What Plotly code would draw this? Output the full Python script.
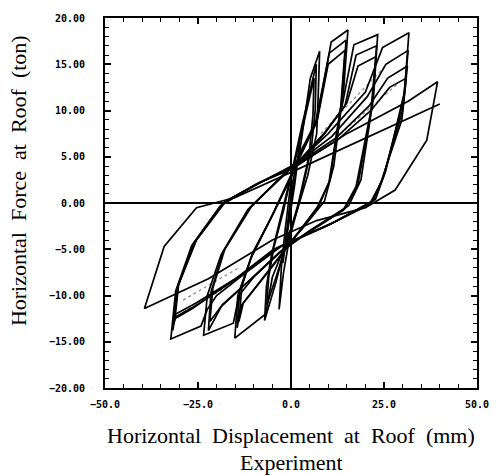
import plotly.graph_objects as go

# Hysteresis loops: displacement (mm) and force (ton)
c0_x = [0.0, 1.2, 2.4, 1.0, -1.0, -2.2, -1.0, 0.3]
c0_y = [0.0, 3.5, 6.5, 2.0, -3.0, -6.5, -2.5, 2.0]

c1a_x = [0.3, 2.5, 5.2, 7.7, 7.3, 6.9, 4.5, 1.5, -1.5, -4.0, -7.1, -6.6, -5.2, -2.5, 0.3]
c1a_y = [2.0, 6.0, 13.5, 16.4, 11.5, 7.5, 3.0, -1.0, -4.5, -8.5, -12.7, -9.0, -5.5, -1.0, 3.5]
c1b_x = [0.3, 3.0, 6.8, 6.5, 5.5, 2.5, -0.5, -2.0, -3.2, -2.6, -1.6, 0.2]
c1b_y = [3.5, 8.5, 15.0, 10.0, 6.0, 0.5, -4.0, -7.5, -11.5, -7.0, -3.0, 3.0]
c1c_x = [0.2, 2.8, 6.2, 5.9, 4.8, 2.0, -1.0, -4.0, -6.5, -6.0, -4.6, -2.0, 0.2]
c1c_y = [3.0, 7.5, 13.5, 9.5, 5.0, 0.0, -4.2, -8.0, -11.0, -8.0, -4.8, -0.8, 3.2]

c2a_x = [0.2, 2.5, 7.0, 10.8, 15.3, 14.2, 11.5, 9.0, 3.0, -2.0, -5.0, -6.8, -15.1, -14.3, -10.8, -5.6, 1.5]
c2a_y = [3.0, 5.5, 9.0, 17.4, 18.7, 12.5, 4.0, 0.2, -2.8, -5.0, -8.0, -12.0, -14.6, -10.0, -6.0, -1.8, 4.3]
c2b_x = [1.5, 6.5, 10.3, 14.8, 13.6, 10.5, 7.5, 0.0, -7.0, -13.2, -14.5, -13.8, -10.5, -5.2, 1.5]
c2b_y = [4.3, 8.5, 16.2, 17.6, 11.0, 2.5, -0.3, -4.2, -7.8, -11.0, -13.5, -9.5, -5.6, -1.5, 4.0]
c2c_x = [1.5, 7.0, 10.0, 14.5, 13.4, 10.2, 7.0, 0.0, -7.0, -12.8, -14.0, -13.2, -10.2, -5.0, 1.5]
c2c_y = [4.2, 8.8, 15.0, 16.5, 10.5, 2.2, -0.5, -4.3, -7.9, -10.8, -12.8, -9.0, -5.3, -1.3, 4.1]

c3a_x = [1.5, 8.0, 13.5, 16.9, 23.3, 22.2, 18.8, 15.5, 5.0, -2.0, -10.0, -14.0, -15.5, -23.5, -22.5, -18.8, -11.6, 1.5]
c3a_y = [4.3, 7.0, 10.0, 17.1, 18.2, 11.5, 2.5, -0.3, -3.0, -5.0, -8.0, -10.0, -13.0, -14.3, -10.0, -5.6, -0.7, 4.3]
c3b_x = [1.5, 9.0, 14.5, 17.5, 23.0, 21.8, 18.0, 14.5, 4.0, -3.0, -11.0, -18.5, -22.2, -21.5, -18.3, -11.0, 1.5]
c3b_y = [4.3, 7.5, 10.5, 16.0, 17.0, 10.5, 2.0, -0.6, -3.3, -5.3, -8.3, -11.0, -13.8, -9.6, -5.3, -0.5, 4.5]
c3c_x = [1.5, 9.5, 15.0, 18.0, 22.8, 21.5, 17.5, 14.0, 3.5, -3.5, -11.5, -18.8, -21.8, -21.0, -17.8, -10.5, 1.5]
c3c_y = [4.2, 7.8, 10.8, 14.8, 15.8, 10.0, 1.8, -0.8, -3.5, -5.5, -8.5, -11.2, -12.8, -9.2, -5.0, -0.3, 4.4]

c4a_x = [1.5, 10.0, 20.0, 24.6, 31.7, 30.5, 25.5, 22.7, 12.0, -2.0, -12.0, -20.0, -22.5, -24.2, -32.3, -31.0, -26.7, -19.0, -10.0, 1.5]
c4a_y = [4.3, 7.5, 12.0, 16.8, 18.4, 12.0, 3.5, 0.4, -2.0, -4.5, -7.5, -10.0, -11.5, -13.3, -14.7, -9.5, -4.6, -0.3, 1.8, 4.3]
c4b_x = [1.5, 11.0, 20.5, 25.5, 31.5, 30.2, 25.0, 22.0, 11.0, -3.0, -13.0, -25.5, -31.0, -31.8, -30.6, -26.2, -18.5, -9.5, 1.5]
c4b_y = [4.3, 7.2, 11.5, 15.0, 16.5, 11.0, 3.0, 0.2, -2.2, -4.7, -7.7, -10.8, -12.0, -13.8, -9.2, -4.4, -0.1, 2.0, 4.2]
c4c_x = [1.5, 12.0, 21.0, 26.0, 31.3, 30.0, 24.5, 21.5, 10.0, -4.0, -14.0, -26.0, -31.0, -31.5, -30.4, -25.8, -18.0, -9.0, 1.5]
c4c_y = [4.2, 7.0, 10.5, 13.5, 14.8, 10.0, 2.5, 0.0, -2.4, -4.9, -8.0, -11.2, -12.3, -13.0, -9.0, -4.2, 0.1, 2.1, 4.0]
c4d_x = [1.5, 12.5, 21.5, 26.5, 31.0, 29.8, 24.0, 21.0, 9.0, -5.0, -15.0, -26.5, -30.8, -31.2, -30.2, -25.4, -17.5, -8.5, 1.5]
c4d_y = [4.1, 6.8, 10.0, 12.5, 13.5, 9.0, 2.0, -0.2, -2.6, -5.1, -8.2, -11.4, -12.4, -12.5, -8.8, -4.0, 0.2, 2.2, 3.9]

c5_x = [1.5, 15.0, 31.5, 39.4, 36.5, 28.0, 20.0, 6.9, -5.0, -22.2, -39.4, -34.1, -25.4, -15.0, 1.0, 20.0, 40.0]
c5_y = [4.0, 7.5, 11.0, 13.1, 6.8, 1.4, -0.5, -1.9, -4.0, -8.2, -11.4, -4.7, -0.5, 0.6, 3.5, 7.0, 10.7]

# faint speckled strokes inside the loops
g1_x = [8.0, 27.0]
g1_y = [7.5, 15.5]
g2_x = [12.0, 29.0]
g2_y = [7.0, 13.0]
g3_x = [-29.0, -14.0]
g3_y = [-10.5, -7.0]
g4_x = [-29.0, -16.0]
g4_y = [-11.8, -8.8]

x_ticks = [-50, -25, 0, 25, 50]
y_ticks = [-20, -15, -10, -5, 0, 5, 10, 15, 20]

cycles = [(c0_x, c0_y), (c1a_x, c1a_y), (c1b_x, c1b_y), (c1c_x, c1c_y),
          (c2a_x, c2a_y), (c2b_x, c2b_y), (c2c_x, c2c_y),
          (c3a_x, c3a_y), (c3b_x, c3b_y), (c3c_x, c3c_y),
          (c4a_x, c4a_y), (c4b_x, c4b_y), (c4c_x, c4c_y), (c4d_x, c4d_y),
          (c5_x, c5_y)]
speckles = [(g1_x, g1_y), (g2_x, g2_y), (g3_x, g3_y), (g4_x, g4_y)]

fig = go.Figure()
for gx, gy in speckles:
    fig.add_trace(go.Scatter(x=gx, y=gy, mode="lines",
                             line=dict(color="#8a8a8a", width=1.2, dash="dot"),
                             showlegend=False, hoverinfo="skip"))
for cx, cy in cycles:
    fig.add_trace(go.Scatter(x=cx, y=cy, mode="lines",
                             line=dict(color="black", width=1.7),
                             showlegend=False, hoverinfo="skip"))

tickfont = dict(family="DejaVu Sans Mono", size=10, color="black", weight="bold")
axis_common = dict(showgrid=False, showline=True, linecolor="black", linewidth=2,
                   mirror="ticks", ticks="inside", tickcolor="black", tickwidth=1.5,
                   ticklen=6, zeroline=True, zerolinecolor="black", zerolinewidth=1.5,
                   tickfont=tickfont)

fig.update_xaxes(range=[-50, 50], tickvals=x_ticks, tickformat=".1f",
                 ticklabelstandoff=6,
                 minor=dict(dtick=5, ticks="inside", ticklen=4, tickcolor="black", tickwidth=1.2),
                 **axis_common)
fig.update_yaxes(range=[-20, 20], tickvals=y_ticks, tickformat=".2f",
                 ticklabelstandoff=16,
                 minor=dict(dtick=1, ticks="inside", ticklen=4, tickcolor="black", tickwidth=1.2),
                 **axis_common)

serif = dict(family="Liberation Serif", size=22, color="black")
nb = "\u00a0"
fig.add_annotation(text=f"Horizontal{nb}{nb}Force{nb}{nb}at{nb}{nb}Roof{nb}{nb}(ton)",
                   xref="paper", yref="paper", x=-0.233, y=0.56, textangle=-90,
                   showarrow=False, font=serif, xanchor="center", yanchor="middle")
fig.add_annotation(text=f"Horizontal{nb}{nb}Displacement{nb}{nb}at{nb}{nb}Roof{nb}{nb}(mm)",
                   xref="paper", yref="paper", x=0.5, y=-0.128,
                   showarrow=False, font=serif, xanchor="center", yanchor="middle")
fig.add_annotation(text="Experiment",
                   xref="paper", yref="paper", x=0.5, y=-0.2,
                   showarrow=False, font=serif, xanchor="center", yanchor="middle")

fig.update_layout(width=501, height=475, margin=dict(l=105, r=18, t=13, b=87),
                  plot_bgcolor="white", paper_bgcolor="white")
fig.write_html("out.html")
